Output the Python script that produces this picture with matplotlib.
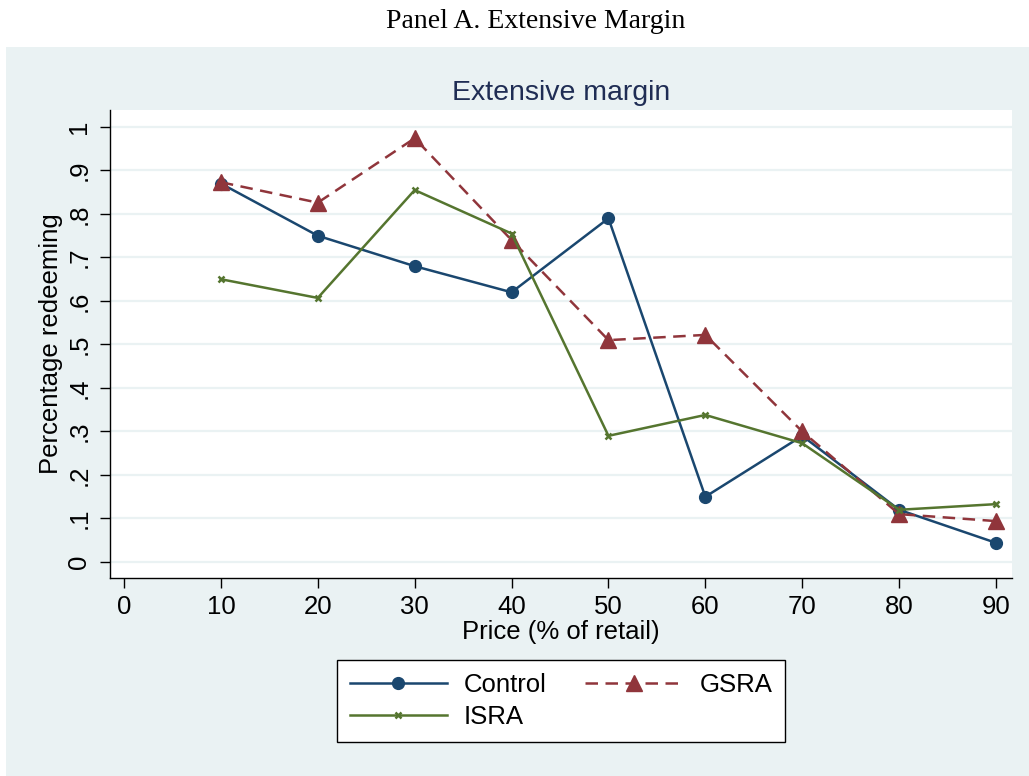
import matplotlib
matplotlib.use("Agg")
import matplotlib.pyplot as plt
from matplotlib.patches import Rectangle

price = [10, 20, 30, 40, 50, 60, 70, 80, 90]
control = [0.87, 0.75, 0.68, 0.62, 0.79, 0.15, 0.29, 0.12, 0.044]
gsra = [0.873, 0.826, 0.974, 0.74, 0.51, 0.522, 0.30, 0.11, 0.094]
isra = [0.65, 0.607, 0.855, 0.755, 0.29, 0.338, 0.273, 0.12, 0.133]
xticks = [0, 10, 20, 30, 40, 50, 60, 70, 80, 90]
yticks = [0, 0.1, 0.2, 0.3, 0.4, 0.5, 0.6, 0.7, 0.8, 0.9, 1.0]
ylabels = ["0", ".1", ".2", ".3", ".4", ".5", ".6", ".7", ".8", ".9", "1"]

BG = "#eaf2f3"
C_CTRL = "#1a476f"
C_GSRA = "#90353b"
C_ISRA = "#55752f"

plt.rcParams["font.family"] = ["Liberation Sans", "DejaVu Sans"]

W, H = 1029, 776
fig = plt.figure(figsize=(W / 100, H / 100), dpi=100)
fig.patch.set_facecolor("white")
fig.patches.append(Rectangle((6 / W, 0), 1 - 6 / W, 1 - 47 / H,
                             transform=fig.transFigure, facecolor=BG,
                             edgecolor="none", zorder=-5))

fig.text(536 / W, 1 - 21 / H, "Panel A. Extensive Margin", ha="center", va="center",
         fontsize=20, family=["Liberation Serif", "DejaVu Serif"])

ax = fig.add_axes([110 / W, 1 - 578 / H, 902 / W, 468 / H])
ax.set_zorder(2)
ax.set_facecolor("white")
ax.set_xlim(-1.445, 91.65)
ax.set_ylim(-0.0368, 1.039)

for yv in yticks:
    ax.axhline(yv, color=BG, lw=1.6, zorder=1)

l1, = ax.plot(price, control, color=C_CTRL, lw=1.8, marker="o", ms=8.5, label="Control", zorder=3)
l2, = ax.plot(price, gsra, color=C_GSRA, lw=1.8, ls=(0, (5, 3)), marker="^", ms=11, label="GSRA", zorder=4)
l3, = ax.plot(price, isra, color=C_ISRA, lw=1.8, marker="x", ms=5, mew=1.8, label="ISRA", zorder=5)

ax.spines["top"].set_visible(False)
ax.spines["right"].set_visible(False)
ax.spines["left"].set_linewidth(1.0)
ax.spines["bottom"].set_linewidth(1.0)

ax.set_xticks(xticks)
ax.set_xticklabels([str(x) for x in xticks])
ax.set_yticks(yticks)
ax.set_yticklabels(ylabels, rotation=90, va="center")
ax.tick_params(axis="x", length=7, width=1.0, labelsize=18.5, pad=5)
ax.tick_params(axis="y", length=7.5, width=1.0, labelsize=18.5, pad=6)

ax.set_xlabel("Price (% of retail)", fontsize=18.5, labelpad=1)
ax.set_ylabel("Percentage redeeming", fontsize=18.5, labelpad=3)
ax.set_title("Extensive margin", fontsize=20.5, color="#1f2d54", pad=7)

leg = fig.legend([l1, l3, l2], ["Control", "ISRA", "GSRA"], loc="center",
                 bbox_to_anchor=(561 / W, 1 - 701 / H), ncol=2,
                 fontsize=18.5, frameon=True, fancybox=False, edgecolor="black",
                 facecolor="white", framealpha=1, handlelength=3.8,
                 columnspacing=1.5, borderpad=0.5, labelspacing=0.3,
                 handletextpad=0.65)
leg.get_frame().set_linewidth(1.0)
leg.set_zorder(5)

fig.savefig("out.png", dpi=100, facecolor=fig.get_facecolor())
